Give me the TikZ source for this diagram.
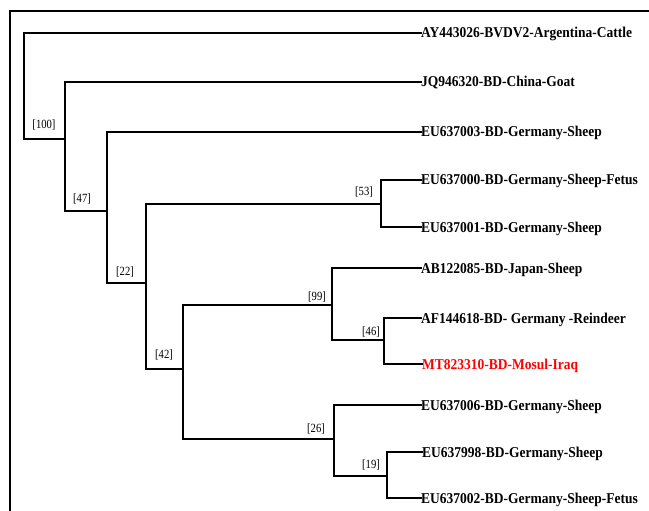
\documentclass[tikz,border=0pt]{standalone}
\usepackage{fontspec}
\setmainfont{Liberation Serif}
\newfontfamily\leaffont[FakeStretch=0.9]{Liberation Serif}
\newfontfamily\bootfont[FakeStretch=0.85]{Liberation Serif}
\begin{document}
\begin{tikzpicture}[x=1pt,y=-1pt,
  branch/.style={line width=1.3pt,line cap=rect},
  leaf/.style={anchor=west,inner sep=0pt,text height=10pt,text depth=0pt,
    font=\leaffont\fontsize{15}{16}\selectfont\bfseries},
  boot/.style={inner sep=0pt,font=\bootfont\fontsize{12.5}{13}\selectfont}]
\useasboundingbox (0,0) rectangle (649,511);
% frame
\draw[line width=1.3pt] (650,11) -- (10,11) -- (10,512);
% leaves
\node[leaf] (l1) at (421,33) {AY443026-BVDV2-Argentina-Cattle};
\node[leaf] (l2) at (421,82) {JQ946320-BD-China-Goat};
\node[leaf] (l3) at (421,132) {EU637003-BD-Germany-Sheep};
\node[leaf] (l4) at (421,180) {EU637000-BD-Germany-Sheep-Fetus};
\node[leaf] (l5) at (421,227) {EU637001-BD-Germany-Sheep};
\node[leaf] (l6) at (421,268) {AB122085-BD-Japan-Sheep};
\node[leaf] (l7) at (421,318) {AF144618-BD- Germany -Reindeer};
\node[leaf,text=red] (l8) at (422,364) {MT823310-BD-Mosul-Iraq};
\node[leaf] (l9) at (421,405) {EU637006-BD-Germany-Sheep};
\node[leaf] (l10) at (422,452) {EU637998-BD-Germany-Sheep};
\node[leaf] (l11) at (421,498) {EU637002-BD-Germany-Sheep-Fetus};
% internal nodes
\coordinate (r) at (24,86);
\coordinate (n47) at (65,139);
\coordinate (n22) at (107,211);
\coordinate (n42) at (146,283);
\coordinate (n53) at (381,204);
\coordinate (n5) at (183,369);
\coordinate (n99) at (332,305);
\coordinate (n46) at (384,340);
\coordinate (n26) at (334,439);
\coordinate (n19) at (387,476);
% branches
\draw[branch] (l1.west) -| (r) |- (n47);
\draw[branch] (l2.west) -| (n47) |- (n22);
\draw[branch] (l3.west) -| (n22) |- (n42);
\draw[branch] (n53) -| (n42) |- (n5);
\draw[branch] (l4.west) -| (n53) |- (l5.west);
\draw[branch] (n99) -| (n5) |- (n26);
\draw[branch] (l6.west) -| (n99) |- (n46);
\draw[branch] (l7.west) -| (n46) |- (l8.west);
\draw[branch] (l9.west) -| (n26) |- (n19);
\draw[branch] (l10.west) -| (n19) |- (l11.west);
% bootstrap values
\node[boot] (b100) at (44,125) {[100]};
\node[boot] (b47) at (82,199) {[47]};
\node[boot] (b22) at (125,272) {[22]};
\node[boot] (b42) at (164,355) {[42]};
\node[boot] (b53) at (364,192) {[53]};
\node[boot] (b99) at (317,297) {[99]};
\node[boot] (b46) at (371,332) {[46]};
\node[boot] (b26) at (316,429) {[26]};
\node[boot] (b19) at (371,465) {[19]};
\end{tikzpicture}
\end{document}
